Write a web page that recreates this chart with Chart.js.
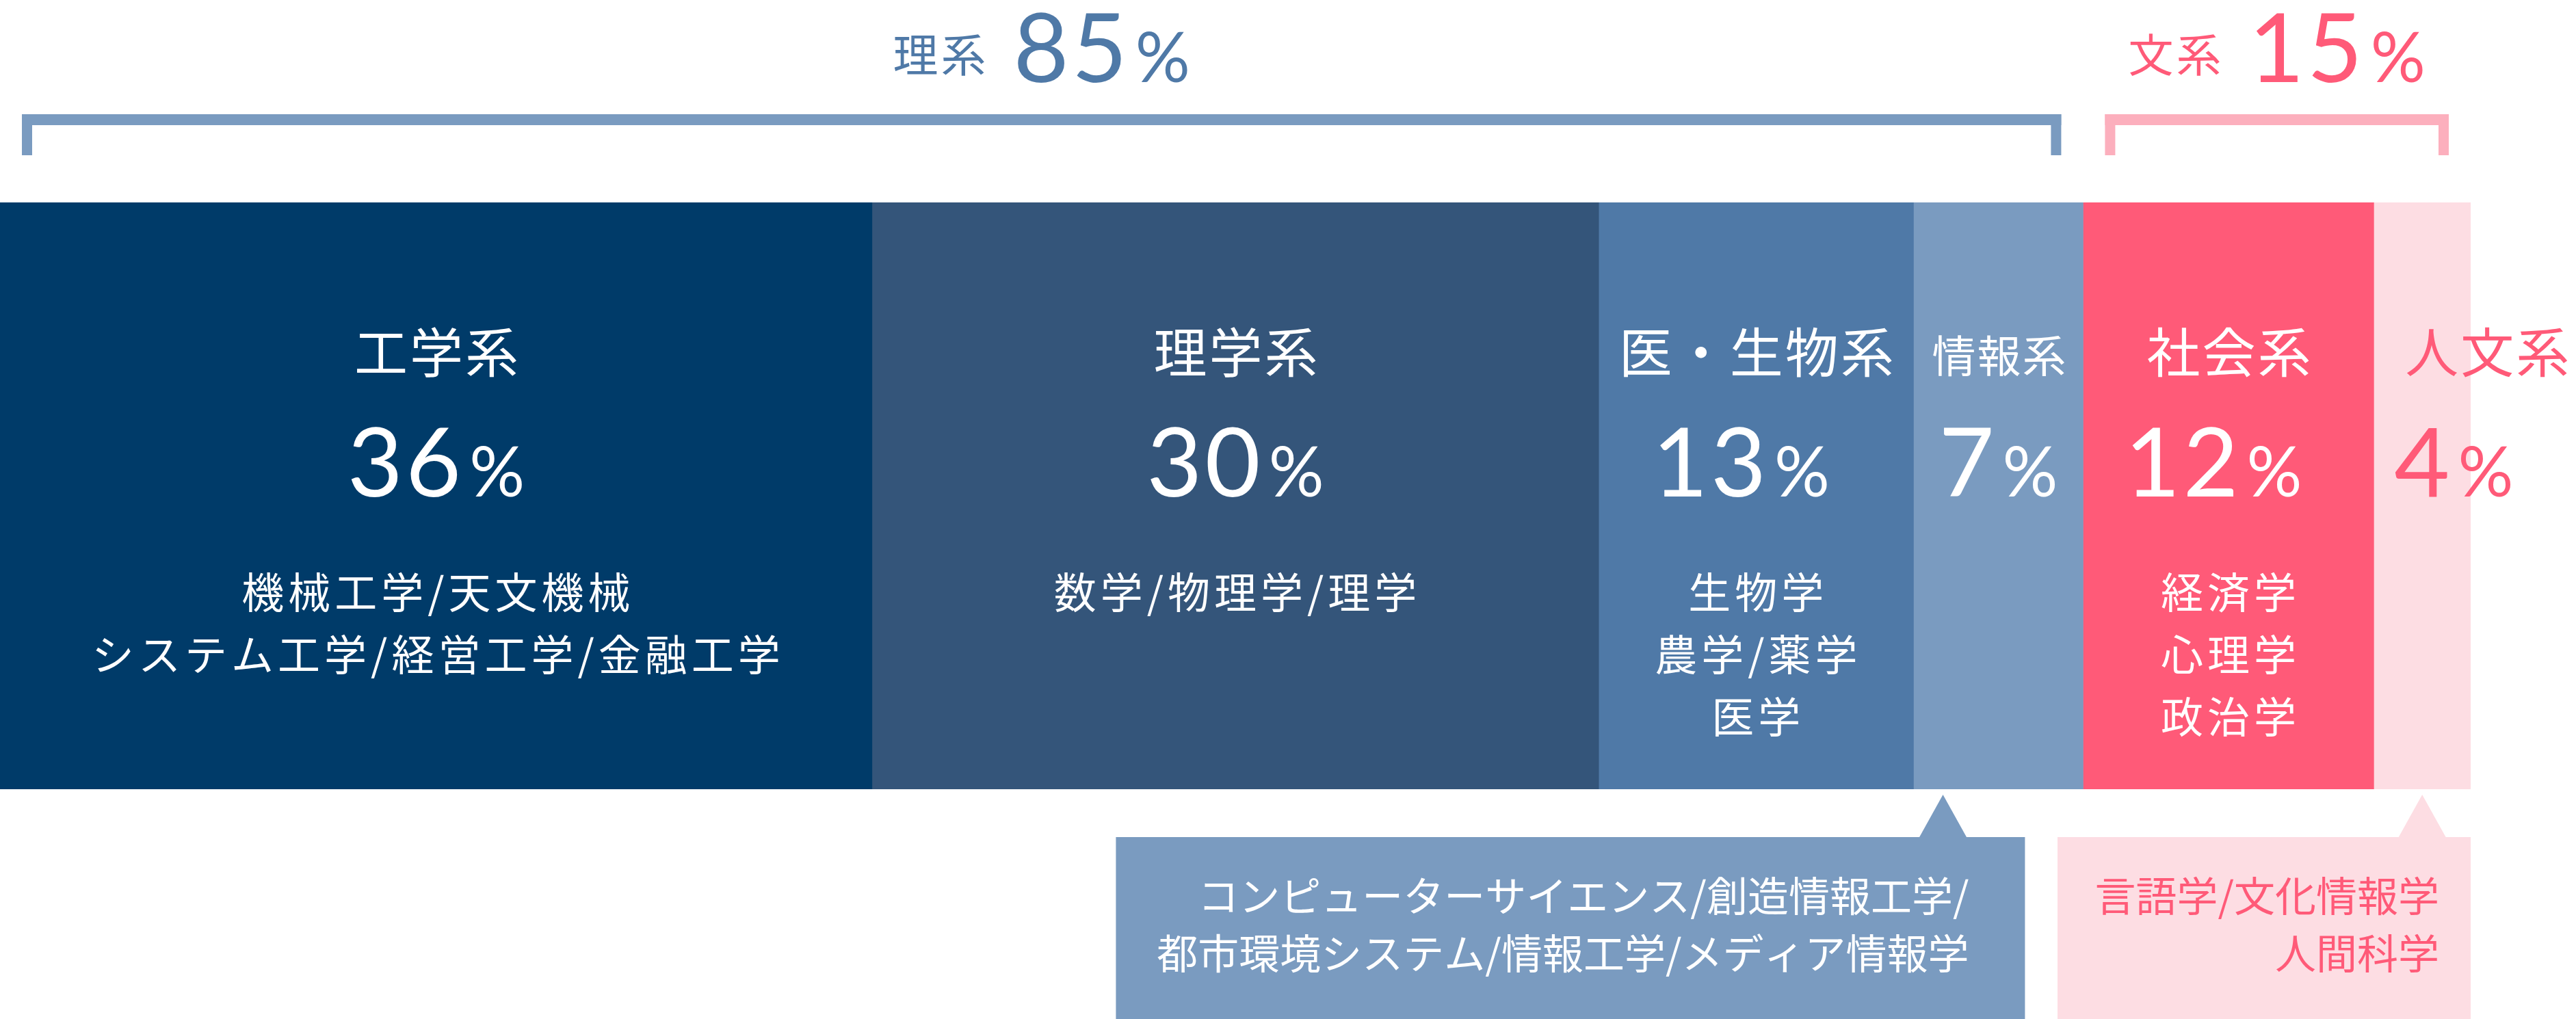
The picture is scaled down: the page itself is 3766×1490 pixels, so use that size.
<!DOCTYPE html>
<html lang="ja">
<head>
<meta charset="utf-8">
<title>学部系統の割合</title>
<script src="https://cdn.jsdelivr.net/npm/chart.js@4.4.1/dist/chart.umd.min.js"></script>
<style>
  html, body { margin: 0; padding: 0; background: #fff; }
  #wrap { position: relative; width: 3766px; height: 1490px; }
</style>
</head>
<body>
<div id="wrap"><canvas id="shareChart"></canvas></div>
<script>
// Data
const categories = ['工学系', '理学系', '医・生物系', '情報系', '社会系', '人文系'];
const shares = [36, 30, 13, 7, 12, 4];
const majorLines = [
  ['機械工学/天文機械', 'システム工学/経営工学/金融工学'],
  ['数学/物理学/理学'],
  ['生物学', '農学/薬学', '医学'],
  [],
  ['経済学', '心理学', '政治学'],
  [],
];
const groupNames = ['理系', '文系'];
const groupShares = [85, 15];
const groupFirst = [0, 4];
const groupLast = [3, 5];
const calloutFor = [3, 5];
const calloutLines = [
  ['コンピューターサイエンス/創造情報工学/', '都市環境システム/情報工学/メディア情報学'],
  ['言語学/文化情報学', '人間科学'],
];

// Styles
const segmentColors = ['#003B69', '#34557A', '#4F79A7', '#7A9BC0', '#FF5A78', '#FDDDE3'];
const labelColors = ['#fff', '#fff', '#fff', '#fff', '#fff', '#FF5A78'];
const groupColors = ['#4F79A7', '#FF5A78'];
const bracketColors = ['#7A9BC0', '#FCAFBD'];
const calloutFill = ['#7A9BC0', '#FDDDE3'];
const calloutText = ['#fff', '#FF5A78'];

const JP = '"Noto Sans CJK JP", "Noto Sans", sans-serif';
const NUM = 'Lato, "Noto Sans", sans-serif';

const total = shares.reduce((a, b) => a + b, 0);
const starts = shares.map((_, i) => shares.slice(0, i).reduce((a, b) => a + b, 0));

function setFont(ctx, size, family, spacing) {
  ctx.font = `400 ${size}px ${family}`;
  ctx.letterSpacing = (spacing || 0) + 'px';
}

// draws "36%" with a smaller percent sign; align = 'center' or 'left'
function drawPercent(ctx, value, x, baseline, digitSize, color, align) {
  ctx.fillStyle = color;
  ctx.textBaseline = 'alphabetic';
  ctx.textAlign = 'left';
  const num = String(value);
  setFont(ctx, digitSize, NUM, 4);
  const wd = ctx.measureText(num).width;
  setFont(ctx, Math.round(digitSize * 0.72), NUM, 0);
  const wp = ctx.measureText('%').width;
  const gap = 8;
  const w = wd + gap + wp;
  // a leading "1" sits further left in the original type
  const shift = num[0] === '1' ? -22 : 0;
  const x0 = (align === 'left' ? x : x - w / 2) + shift;
  setFont(ctx, digitSize, NUM, 4);
  ctx.fillText(num, x0, baseline);
  setFont(ctx, Math.round(digitSize * 0.72), NUM, 0);
  ctx.fillText('%', x0 + wd + gap, baseline);
  return w;
}

const overlayPlugin = {
  id: 'overlay',
  afterDraw(chart) {
    const ctx = chart.ctx;
    const xs = chart.scales.x;
    const area = chart.chartArea;
    const px = v => xs.getPixelForValue(v);
    ctx.save();

    // group brackets and headers
    groupNames.forEach((name, g) => {
      const x0 = px(starts[groupFirst[g]]) + 32;
      const x1 = px(starts[groupLast[g]] + shares[groupLast[g]]) - 32;
      const top = 167, thick = 16, drop = 60;
      ctx.fillStyle = bracketColors[g];
      ctx.fillRect(x0, top, x1 - x0, thick);
      ctx.fillRect(x0, top, thick - 1, drop);
      ctx.fillRect(x1 - thick + 1, top, thick - 1, drop);

      setFont(ctx, 66, JP, 4);
      const wn = ctx.measureText(name).width;
      setFont(ctx, 140, NUM, 4);
      const wd = ctx.measureText(String(groupShares[g])).width;
      setFont(ctx, 100, NUM, 0);
      const wp = ctx.measureText('%').width;
      const gap = 36;
      const w = wn + gap + wd + 8 + wp;
      const sx = (x0 + x1) / 2 - w / 2;
      ctx.fillStyle = groupColors[g];
      setFont(ctx, 66, JP, 4);
      ctx.textAlign = 'left';
      ctx.textBaseline = 'middle';
      ctx.fillText(name, sx, 80);
      const nx = sx + wn + gap;
      ctx.save();
      // header numbers keep their own alignment
      setFont(ctx, 140, NUM, 4);
      ctx.textBaseline = 'alphabetic';
      ctx.fillText(String(groupShares[g]), nx, 120);
      setFont(ctx, 100, NUM, 0);
      ctx.fillText('%', nx + wd + 8, 120);
      ctx.restore();
    });

    // segment labels
    categories.forEach((cat, i) => {
      const x0 = px(starts[i]);
      const x1 = px(starts[i] + shares[i]);
      const cx = (x0 + x1) / 2;
      const narrow = x1 - x0 < 200;
      const color = labelColors[i];
      ctx.fillStyle = color;
      ctx.textBaseline = 'middle';
      const titleSize = (x1 - x0) < 300 && !narrow ? 64 : 78;
      setFont(ctx, titleSize, JP, titleSize === 64 ? 2 : 3);
      if (narrow) {
        ctx.textAlign = 'left';
        ctx.fillText(cat, x0 + 46, 515);
        drawPercent(ctx, shares[i], x0 + 30, 726, 140, color, 'left');
      } else {
        ctx.textAlign = 'center';
        ctx.fillText(cat, cx + 2, titleSize === 64 ? 520 : 515);
        drawPercent(ctx, shares[i], cx, 726, 140, color, 'center');
      }
      ctx.fillStyle = color;
      ctx.textAlign = 'center';
      ctx.textBaseline = 'middle';
      setFont(ctx, 62, JP, 6);
      majorLines[i].forEach((line, k) => {
        ctx.fillText(line, cx + 3, 866 + k * 91);
      });
    });

    // callouts under the bar
    const boxTop = area.bottom + 70;
    calloutFor.forEach((seg, c) => {
      let right, left, apex;
      if (c === 0) {
        right = px(starts[seg] + shares[seg]) - 85;
        left = right - 1329;
        apex = px(starts[seg]) + 43;
      } else {
        right = px(starts[seg] + shares[seg]);
        left = right - 604;
        apex = (px(starts[seg]) + right) / 2;
      }
      ctx.fillStyle = calloutFill[c];
      ctx.fillRect(left, boxTop, right - left, chart.height - boxTop);
      ctx.beginPath();
      ctx.moveTo(apex, area.bottom + 8);
      ctx.lineTo(apex + 35, boxTop + 1);
      ctx.lineTo(apex - 35, boxTop + 1);
      ctx.closePath();
      ctx.fill();

      ctx.fillStyle = calloutText[c];
      setFont(ctx, 60, JP, 0);
      ctx.textAlign = 'right';
      ctx.textBaseline = 'middle';
      const pad = c === 0 ? 82 : 46;
      calloutLines[c].forEach((line, k) => {
        ctx.fillText(line, right - pad, 1310 + k * 84);
      });
    });

    ctx.restore();
  }
};

function init() {
  const ctx = document.getElementById('shareChart');
  new Chart(ctx, {
    type: 'bar',
    data: {
      labels: ['全体'],
      datasets: categories.map((cat, i) => ({
        label: cat,
        data: [shares[i]],
        backgroundColor: segmentColors[i],
        borderWidth: 0,
        barPercentage: 1,
        categoryPercentage: 1,
      })),
    },
    options: {
      indexAxis: 'y',
      responsive: true,
      maintainAspectRatio: false,
      animation: false,
      layout: { padding: { top: 296, bottom: 336, left: 0, right: 154 } },
      plugins: {
        legend: { display: false },
        tooltip: { enabled: false },
        title: { display: false },
      },
      scales: {
        x: { stacked: true, min: 0, max: total, display: false },
        y: { stacked: true, display: false },
      },
    },
    plugins: [overlayPlugin],
  });
}

Promise.all([
  document.fonts.load('78px "Noto Sans CJK JP"'),
  document.fonts.load('140px Lato'),
]).then(init, init);
</script>
</body>
</html>
